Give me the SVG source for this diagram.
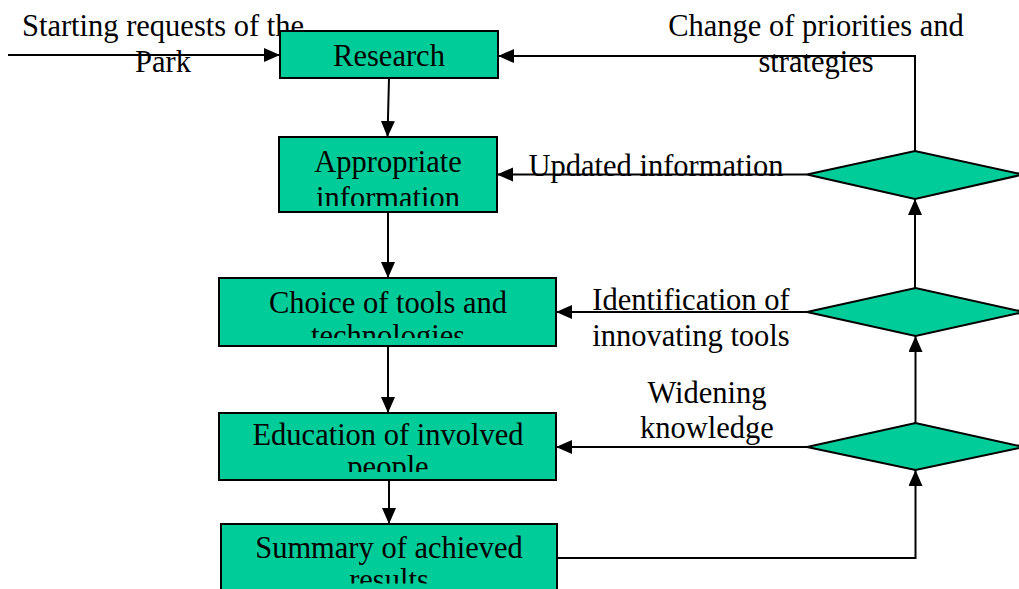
<svg xmlns="http://www.w3.org/2000/svg" width="1019" height="589" viewBox="0 0 1019 589">
<style>
.box{fill:#00CC99;stroke:#000;stroke-width:2}
.dia{fill:#00CC99;stroke:#000;stroke-width:2}
.ln{fill:none;stroke:#000;stroke-width:2}
text{font-family:"Liberation Serif","Times New Roman",serif;font-size:30.5px;fill:#000;text-anchor:middle}
</style>
<defs>
<marker id="ah" markerUnits="userSpaceOnUse" markerWidth="18" markerHeight="16" refX="16" refY="7" orient="auto">
<path d="M0,0 L16,7 L0,14 Z" fill="#000"/>
</marker>
<clipPath id="c2"><rect x="279" y="137" width="218" height="69"/></clipPath>
<clipPath id="c3"><rect x="219" y="278" width="337" height="60"/></clipPath>
<clipPath id="c4"><rect x="219" y="413" width="337" height="59"/></clipPath>
<clipPath id="c5"><rect x="221" y="524" width="336" height="59.5"/></clipPath>
</defs>
<g id="connectors">
<line class="ln" x1="8" y1="55" x2="280" y2="55" marker-end="url(#ah)"/>
<line class="ln" x1="389" y1="78" x2="387.5" y2="137" marker-end="url(#ah)"/>
<line class="ln" x1="388" y1="212" x2="388" y2="278" marker-end="url(#ah)"/>
<line class="ln" x1="388" y1="346" x2="388" y2="413" marker-end="url(#ah)"/>
<line class="ln" x1="389" y1="480" x2="389" y2="524" marker-end="url(#ah)"/>
<polyline class="ln" points="915,151 915,56 498,56" marker-end="url(#ah)"/>
<line class="ln" x1="807" y1="174.5" x2="497" y2="174.5" marker-end="url(#ah)"/>
<line class="ln" x1="915" y1="288" x2="915" y2="199" marker-end="url(#ah)"/>
<line class="ln" x1="807" y1="312" x2="556" y2="312" marker-end="url(#ah)"/>
<line class="ln" x1="915.5" y1="423" x2="915.5" y2="336" marker-end="url(#ah)"/>
<line class="ln" x1="807" y1="447" x2="556" y2="447" marker-end="url(#ah)"/>
<polyline class="ln" points="557,558 915.5,558 915.5,470" marker-end="url(#ah)"/>
</g>
<g id="label-start"><text x="163" y="36">Starting requests of the</text><text x="163" y="72">Park</text></g>
<g id="label-change"><text x="816" y="36">Change of priorities and</text><text x="816" y="72">strategies</text></g>
<g id="label-updated"><text x="656" y="176">Updated information</text></g>
<g id="label-identification"><text x="691" y="310">Identification of</text><text x="691" y="346">innovating tools</text></g>
<g id="label-widening"><text x="707" y="403">Widening</text><text x="707" y="438">knowledge</text></g>
<g id="n-research"><rect class="box" x="280" y="31" width="218" height="47"/><text x="389" y="66">Research</text></g>
<g id="n-appropriate"><rect class="box" x="279" y="137" width="218" height="75"/><g clip-path="url(#c2)"><text x="388" y="172">Appropriate</text><text x="388" y="208">information</text></g></g>
<g id="n-choice"><rect class="box" x="219" y="278" width="337" height="68"/><g clip-path="url(#c3)"><text x="388" y="313">Choice of tools and</text><text x="388" y="346">technologies</text></g></g>
<g id="n-education"><rect class="box" x="219" y="413" width="337" height="67"/><g clip-path="url(#c4)"><text x="388" y="445">Education of involved</text><text x="388" y="477">people</text></g></g>
<g id="n-summary"><rect class="box" x="221" y="524" width="336" height="70"/><g clip-path="url(#c5)"><text x="389" y="558">Summary of achieved</text><text x="389" y="590">results</text></g></g>
<g id="d-top"><polygon class="dia" points="807,174.5 915,151 1023,174.5 915,199"/></g>
<g id="d-mid"><polygon class="dia" points="807,312 915.5,288 1024,312 915.5,336"/></g>
<g id="d-bot"><polygon class="dia" points="807,447 915.5,423 1024,447 915.5,470"/></g>
</svg>
